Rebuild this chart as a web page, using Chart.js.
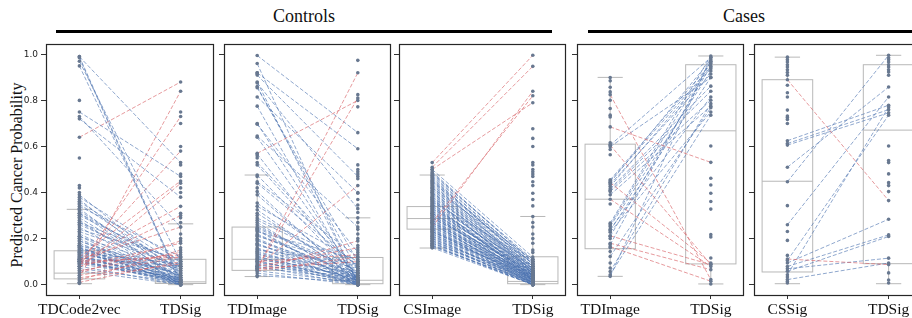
<!DOCTYPE html>
<html>
<head>
<meta charset="utf-8">
<script src="https://cdn.jsdelivr.net/npm/chart.js@4/dist/chart.umd.min.js"></script>
<style>
  body { margin: 0; width: 912px; height: 318px; overflow: hidden; background: #fff; position: relative; font-family: 'Liberation Serif', serif; }
  canvas { position: absolute; top: 0; }
  .hdr { position: absolute; top: 6px; font-size: 18px; color: #111; transform: translateX(-50%); white-space: nowrap; }
  .bar { position: absolute; top: 30px; height: 3px; background: #000; }
  #ytitle { position: absolute; left: 17px; top: 175px; font-size: 16px; color: #111; transform: translate(-50%, -50%) rotate(-90deg); white-space: nowrap; }
</style>
</head>
<body>
<div class="hdr" style="left:304px">Controls</div>
<div class="bar" style="left:56px;width:496px"></div>
<div class="hdr" style="left:744px">Cases</div>
<div class="bar" style="left:588px;width:330px"></div>
<div id="ytitle">Predicted Cancer Probability</div>

<script>
// ---- data: each panel = two categories, paired lines, extra unpaired points, box stats [lo, q1, med, q3, hi]
const yTicks = [0, 0.2, 0.4, 0.6, 0.8, 1.0];

// Controls: TDCode2vec vs TDSig
const p1Cats = ['TDCode2vec', 'TDSig'];
const p1LineA = [0.99, 0.99, 0.985, 0.97, 0.95, 0.75, 0.72, 0.73,
  0.64, 0.03, 0.08, 0.10, 0.12, 0.07, 0.10, 0.09, 0.11, 0.05, 0.08, 0.02, 0.06, 0.09, 0.04, 0.10, 0.01, 0.03,
  0.39, 0.38, 0.37, 0.36, 0.33, 0.32, 0.31, 0.30, 0.28, 0.27, 0.26, 0.25, 0.24, 0.22, 0.21, 0.20, 0.19, 0.18,
  0.17, 0.16, 0.16, 0.15, 0.15, 0.14, 0.14, 0.13, 0.13, 0.12, 0.12, 0.11, 0.11, 0.10, 0.10, 0.09, 0.08, 0.07, 0.06,
  0.35, 0.34, 0.31, 0.29, 0.27, 0.23, 0.21, 0.19, 0.17, 0.165, 0.155, 0.145, 0.135, 0.125, 0.115, 0.105, 0.095];
const p1LineB = [0.53, 0.01, 0.00, 0.10, 0.02, 0.47, 0.38, 0.25,
  0.88, 0.84, 0.73, 0.58, 0.45, 0.44, 0.34, 0.30, 0.25, 0.19, 0.18, 0.15, 0.14, 0.13, 0.12, 0.12, 0.10, 0.09,
  0.04, 0.10, 0.02, 0.08, 0.01, 0.05, 0.02, 0.09, 0.00, 0.03, 0.07, 0.01, 0.11, 0.02, 0.06, 0.00, 0.04, 0.01,
  0.08, 0.02, 0.00, 0.05, 0.01, 0.03, 0.09, 0.00, 0.06, 0.02, 0.01, 0.04, 0.00, 0.03, 0.01, 0.02, 0.00, 0.01, 0.00,
  0.06, 0.12, 0.07, 0.03, 0.10, 0.08, 0.01, 0.02, 0.04, 0.00, 0.07, 0.01, 0.05, 0.02, 0.08, 0.01, 0.03];
const p1ExtraA = [0.80, 0.55, 0.43, 0.42, 0.40, 0.36, 0.35, 0.33, 0.325, 0.30, 0.29, 0.26, 0.23, 0.20, 0.17, 0.05, 0.04, 0.02, 0.01, 0.005];
const p1ExtraB = [0.75, 0.70, 0.60, 0.52, 0.48, 0.42, 0.40, 0.31, 0.29, 0.27, 0.22, 0.20, 0.16];
const p1Box = [[0.004, 0.025, 0.05, 0.147, 0.327], [0.0, 0.005, 0.012, 0.11, 0.264]];

// Controls: TDImage vs TDSig
const p2Cats = ['TDImage', 'TDSig'];
const p2LineA = [0.57, 0.068, 0.07, 0.08, 0.065, 0.08, 0.06, 0.10, 0.07,
  0.995, 0.96, 0.92, 0.91, 0.88, 0.876, 0.855, 0.815, 0.775, 0.70, 0.645, 0.567, 0.53, 0.476, 0.447, 0.404,
  0.354, 0.325, 0.289, 0.27, 0.25, 0.24, 0.23, 0.22, 0.21, 0.20, 0.19, 0.18, 0.17, 0.16, 0.155, 0.15, 0.14,
  0.135, 0.13, 0.12, 0.115, 0.11, 0.105, 0.10, 0.095, 0.09, 0.085, 0.08, 0.075, 0.06, 0.05, 0.04,
  0.86, 0.697, 0.64, 0.52, 0.44, 0.39, 0.34, 0.31, 0.28, 0.26, 0.245, 0.235, 0.215, 0.195, 0.175, 0.145, 0.125];
const p2LineB = [0.80, 0.92, 0.81, 0.43, 0.19, 0.16, 0.12, 0.13, 0.10,
  0.66, 0.00, 0.59, 0.47, 0.01, 0.33, 0.10, 0.40, 0.00, 0.02, 0.25, 0.01, 0.07, 0.03, 0.12, 0.00,
  0.05, 0.02, 0.09, 0.01, 0.06, 0.00, 0.11, 0.03, 0.08, 0.02, 0.05, 0.00, 0.07, 0.01, 0.04, 0.09, 0.02,
  0.00, 0.06, 0.03, 0.01, 0.05, 0.00, 0.02, 0.04, 0.01, 0.03, 0.00, 0.02, 0.01, 0.00, 0.01,
  0.06, 0.14, 0.02, 0.04, 0.08, 0.01, 0.10, 0.03, 0.07, 0.02, 0.05, 0.00, 0.04, 0.01, 0.03, 0.02, 0.00];
const p2ExtraA = [0.92, 0.915, 0.56, 0.55, 0.47, 0.42, 0.30, 0.035];
const p2ExtraB = [0.974, 0.825, 0.772, 0.52, 0.50, 0.49, 0.48, 0.46, 0.397, 0.37, 0.346, 0.313, 0.29, 0.27, 0.24, 0.22, 0.20, 0.17, 0.15];
const p2Box = [[0.035, 0.062, 0.11, 0.25, 0.476], [0.0, 0.004, 0.019, 0.118, 0.29]];

// Controls: CSImage vs TDSig
const p3Cats = ['CSImage', 'TDSig'];
const p3LineA = [0.53, 0.51, 0.50, 0.25, 0.27,
  0.50, 0.49, 0.48, 0.47, 0.46, 0.45, 0.44, 0.43, 0.42, 0.41, 0.40, 0.40, 0.39, 0.38, 0.37, 0.37, 0.36, 0.35,
  0.34, 0.34, 0.33, 0.32, 0.32, 0.31, 0.30, 0.30, 0.29, 0.28, 0.28, 0.27, 0.26, 0.26, 0.25, 0.24, 0.24, 0.23,
  0.22, 0.22, 0.21, 0.20, 0.20, 0.19, 0.18, 0.18, 0.17, 0.165, 0.16, 0.35, 0.31, 0.27, 0.29, 0.33, 0.36, 0.42,
  0.45, 0.38, 0.23, 0.21, 0.19, 0.475, 0.465, 0.455, 0.435, 0.415, 0.395, 0.375, 0.355,
  0.485, 0.445, 0.425, 0.405, 0.385, 0.365, 0.345, 0.335, 0.325, 0.315, 0.305, 0.295, 0.285, 0.275, 0.265,
  0.255, 0.245, 0.235, 0.225, 0.215, 0.205, 0.195, 0.185, 0.175, 0.17, 0.31, 0.29, 0.27, 0.25, 0.23];
const p3LineB = [0.996, 0.948, 0.79, 0.84, 0.82,
  0.12, 0.10, 0.11, 0.09, 0.08, 0.10, 0.07, 0.09, 0.06, 0.08, 0.05, 0.07, 0.06, 0.08, 0.04, 0.06, 0.05, 0.07,
  0.03, 0.05, 0.04, 0.06, 0.02, 0.04, 0.03, 0.05, 0.02, 0.04, 0.01, 0.03, 0.02, 0.04, 0.01, 0.03, 0.00, 0.02,
  0.01, 0.03, 0.00, 0.02, 0.01, 0.00, 0.01, 0.02, 0.00, 0.01, 0.00, 0.02, 0.01, 0.00, 0.06, 0.08, 0.10, 0.11,
  0.05, 0.03, 0.05, 0.04, 0.03, 0.09, 0.07, 0.08, 0.06, 0.05, 0.04, 0.03, 0.02,
  0.10, 0.09, 0.07, 0.06, 0.05, 0.04, 0.035, 0.03, 0.045, 0.025, 0.02, 0.03, 0.015, 0.025, 0.01,
  0.02, 0.005, 0.015, 0.01, 0.005, 0.01, 0.0, 0.005, 0.0, 0.0, 0.07, 0.055, 0.045, 0.035, 0.025];
const p3ExtraA = [0.16, 0.17, 0.19];
const p3ExtraB = [0.677, 0.635, 0.60, 0.53, 0.52, 0.50, 0.49, 0.48, 0.47, 0.447, 0.43, 0.397, 0.37, 0.342, 0.296, 0.27, 0.25, 0.22, 0.20, 0.18, 0.15, 0.14];
const p3Box = [[0.159, 0.241, 0.287, 0.339, 0.476], [0.0, 0.004, 0.014, 0.121, 0.296]];

// Cases: TDImage vs TDSig
const p4Cats = ['TDImage', 'TDSig'];
const p4LineA = [0.825, 0.685, 0.606, 0.443, 0.371, 0.212, 0.18, 0.165,
  0.606, 0.599, 0.455, 0.443, 0.426, 0.416, 0.404, 0.39, 0.267, 0.253, 0.241, 0.228, 0.21, 0.174, 0.122, 0.057, 0.043, 0.036,
  0.45, 0.435, 0.41, 0.26, 0.235];
const p4LineB = [0.022, 0.531, 0.087, 0.094, 0.079, 0.087, 0.065, 0.015,
  0.986, 0.899, 0.96, 0.977, 0.938, 0.862, 0.801, 0.775, 0.993, 0.928, 0.815, 0.75, 0.95, 0.967, 0.768, 0.786, 0.736, 0.986,
  0.945, 0.915, 0.84, 0.97, 0.90];
const p4ExtraA = [0.899, 0.885, 0.857, 0.837, 0.801, 0.765, 0.736, 0.728, 0.616, 0.587, 0.564, 0.35, 0.20, 0.16, 0.144, 0.094, 0.072];
const p4ExtraB = [0.602, 0.462, 0.433, 0.397, 0.361, 0.328, 0.217, 0.207, 0.116, 0.003];
const p4Box = [[0.036, 0.156, 0.371, 0.61, 0.9], [0.003, 0.09, 0.668, 0.955, 0.993]];

// Cases: CSSig vs TDSig
const p5Cats = ['CSSig', 'TDSig'];
const p5LineA = [0.89, 0.111,
  0.625, 0.613, 0.606, 0.51, 0.447, 0.26, 0.105, 0.094, 0.079, 0.069, 0.058, 0.043, 0.022];
const p5LineB = [0.365, 0.087,
  0.779, 0.76, 0.746, 0.858, 0.996, 0.815, 0.736, 0.284, 0.216, 0.115, 0.209, 0.771, 0.094];
const p5ExtraA = [0.988, 0.977, 0.967, 0.955, 0.945, 0.933, 0.921, 0.909, 0.866, 0.833, 0.815, 0.758, 0.732, 0.726, 0.717, 0.70, 0.343, 0.231, 0.192, 0.127, 0.033, 0.014, 0.007];
const p5ExtraB = [0.985, 0.977, 0.967, 0.955, 0.945, 0.933, 0.923, 0.909, 0.602, 0.539, 0.53, 0.481, 0.443, 0.43, 0.404, 0.051, 0.02, 0.007];
const p5Box = [[0.004, 0.055, 0.449, 0.89, 0.988], [0.004, 0.091, 0.671, 0.955, 0.996]];

// ---- layout of the five panels (frame left/right in page px)
const panels = [
  { cats: p1Cats, a: p1LineA, b: p1LineB, ea: p1ExtraA, eb: p1ExtraB, box: p1Box, cases: false, l: 46, r: 216 },
  { cats: p2Cats, a: p2LineA, b: p2LineB, ea: p2ExtraA, eb: p2ExtraB, box: p2Box, cases: false, l: 224, r: 393 },
  { cats: p3Cats, a: p3LineA, b: p3LineB, ea: p3ExtraA, eb: p3ExtraB, box: p3Box, cases: false, l: 399, r: 568 },
  { cats: p4Cats, a: p4LineA, b: p4LineB, ea: p4ExtraA, eb: p4ExtraB, box: p4Box, cases: true, l: 577, r: 746 },
  { cats: p5Cats, a: p5LineA, b: p5LineB, ea: p5ExtraA, eb: p5ExtraB, box: p5Box, cases: true, l: 754, r: 924 },
];

const BLUE = 'rgba(76, 114, 176, 0.62)';
const RED = 'rgba(216, 100, 104, 0.65)';
const DOT = '#687890';

// boxes drawn under everything, from the chart's own scales
const boxPlugin = {
  id: 'boxes',
  beforeDatasetsDraw(chart, args, opts) {
    const { ctx, scales: { x, y } } = chart;
    ctx.save();
    ctx.strokeStyle = '#b8b8b8';
    ctx.lineWidth = 1;
    opts.stats.forEach((s, i) => {
      const [lo, q1, med, q3, hi] = s;
      const xl = x.getPixelForValue(i - 0.25), xr = x.getPixelForValue(i + 0.25);
      const xc = x.getPixelForValue(i);
      const cl = x.getPixelForValue(i - 0.125), cr = x.getPixelForValue(i + 0.125);
      const seg = (x1, y1, x2, y2) => { ctx.beginPath(); ctx.moveTo(x1, y1); ctx.lineTo(x2, y2); ctx.stroke(); };
      ctx.strokeRect(xl, y.getPixelForValue(q3), xr - xl, y.getPixelForValue(q1) - y.getPixelForValue(q3));
      seg(xl, y.getPixelForValue(med), xr, y.getPixelForValue(med));
      seg(xc, y.getPixelForValue(q3), xc, y.getPixelForValue(hi));
      seg(xc, y.getPixelForValue(q1), xc, y.getPixelForValue(lo));
      seg(cl, y.getPixelForValue(hi), cr, y.getPixelForValue(hi));
      seg(cl, y.getPixelForValue(lo), cr, y.getPixelForValue(lo));
    });
    ctx.restore();
  }
};

const framePlugin = {
  id: 'frame',
  afterDraw(chart) {
    const { ctx, chartArea: a } = chart;
    ctx.save();
    ctx.strokeStyle = '#262626';
    ctx.lineWidth = 1.2;
    ctx.strokeRect(a.left + 0.5, a.top + 0.5, a.right - a.left, a.bottom - a.top);
    ctx.restore();
  }
};

panels.forEach((p, idx) => {
  const yW = idx === 0 ? 46 : 8;
  const w = yW + (p.r - p.l) + 1;
  const cv = document.createElement('canvas');
  cv.width = w; cv.height = 318;
  cv.style.left = (p.l - yW) + 'px';
  cv.style.width = w + 'px'; cv.style.height = '318px';
  document.body.appendChild(cv);

  const datasets = [];
  // points on top (dataset 0 is drawn last)
  const pts = [];
  p.a.concat(p.ea).forEach(v => pts.push({ x: 0, y: v }));
  p.b.concat(p.eb).forEach(v => pts.push({ x: 1, y: v }));
  datasets.push({ data: pts, pointRadius: 1.8, pointBackgroundColor: DOT, pointBorderWidth: 0, showLine: false });

  p.a.forEach((va, i) => {
    const vb = p.b[i];
    const up = vb > va;
    const red = p.cases ? !up : up;
    datasets.push({
      data: [{ x: 0, y: va }, { x: 1, y: vb }],
      showLine: true, pointRadius: 0, borderWidth: 1,
      borderColor: red ? RED : BLUE, borderDash: [4, 2]
    });
  });

  new Chart(cv, {
    type: 'scatter',
    data: { datasets },
    options: {
      animation: false, responsive: false, devicePixelRatio: 1,
      layout: { padding: { top: 44, right: 1, left: 0, bottom: 0 } },
      plugins: { legend: { display: false }, tooltip: { enabled: false }, boxes: { stats: p.box } },
      scales: {
        x: {
          type: 'linear', min: -0.33, max: 1.32,
          afterBuildTicks: s => { s.ticks = [{ value: 0 }, { value: 1 }]; },
          afterFit: s => { s.height = 23; },
          grid: { drawOnChartArea: false, drawTicks: true, tickLength: 4, color: '#333' },
          border: { display: false },
          ticks: {
            padding: 2, color: '#111',
            font: { family: 'Liberation Serif', size: 15.5 },
            callback: v => p.cats[v]
          }
        },
        y: {
          min: -0.045, max: 1.045,
          afterBuildTicks: s => { s.ticks = yTicks.map(v => ({ value: v })); },
          afterFit: s => { s.width = yW; },
          grid: { drawOnChartArea: false, drawTicks: true, tickLength: 5, color: '#333' },
          border: { display: false },
          ticks: {
            display: idx === 0, padding: 3, color: '#222',
            font: { family: 'DejaVu Sans', size: 9 },
            callback: v => v.toFixed(1)
          }
        }
      }
    },
    plugins: [boxPlugin, framePlugin]
  });
});
</script>
</body>
</html>
